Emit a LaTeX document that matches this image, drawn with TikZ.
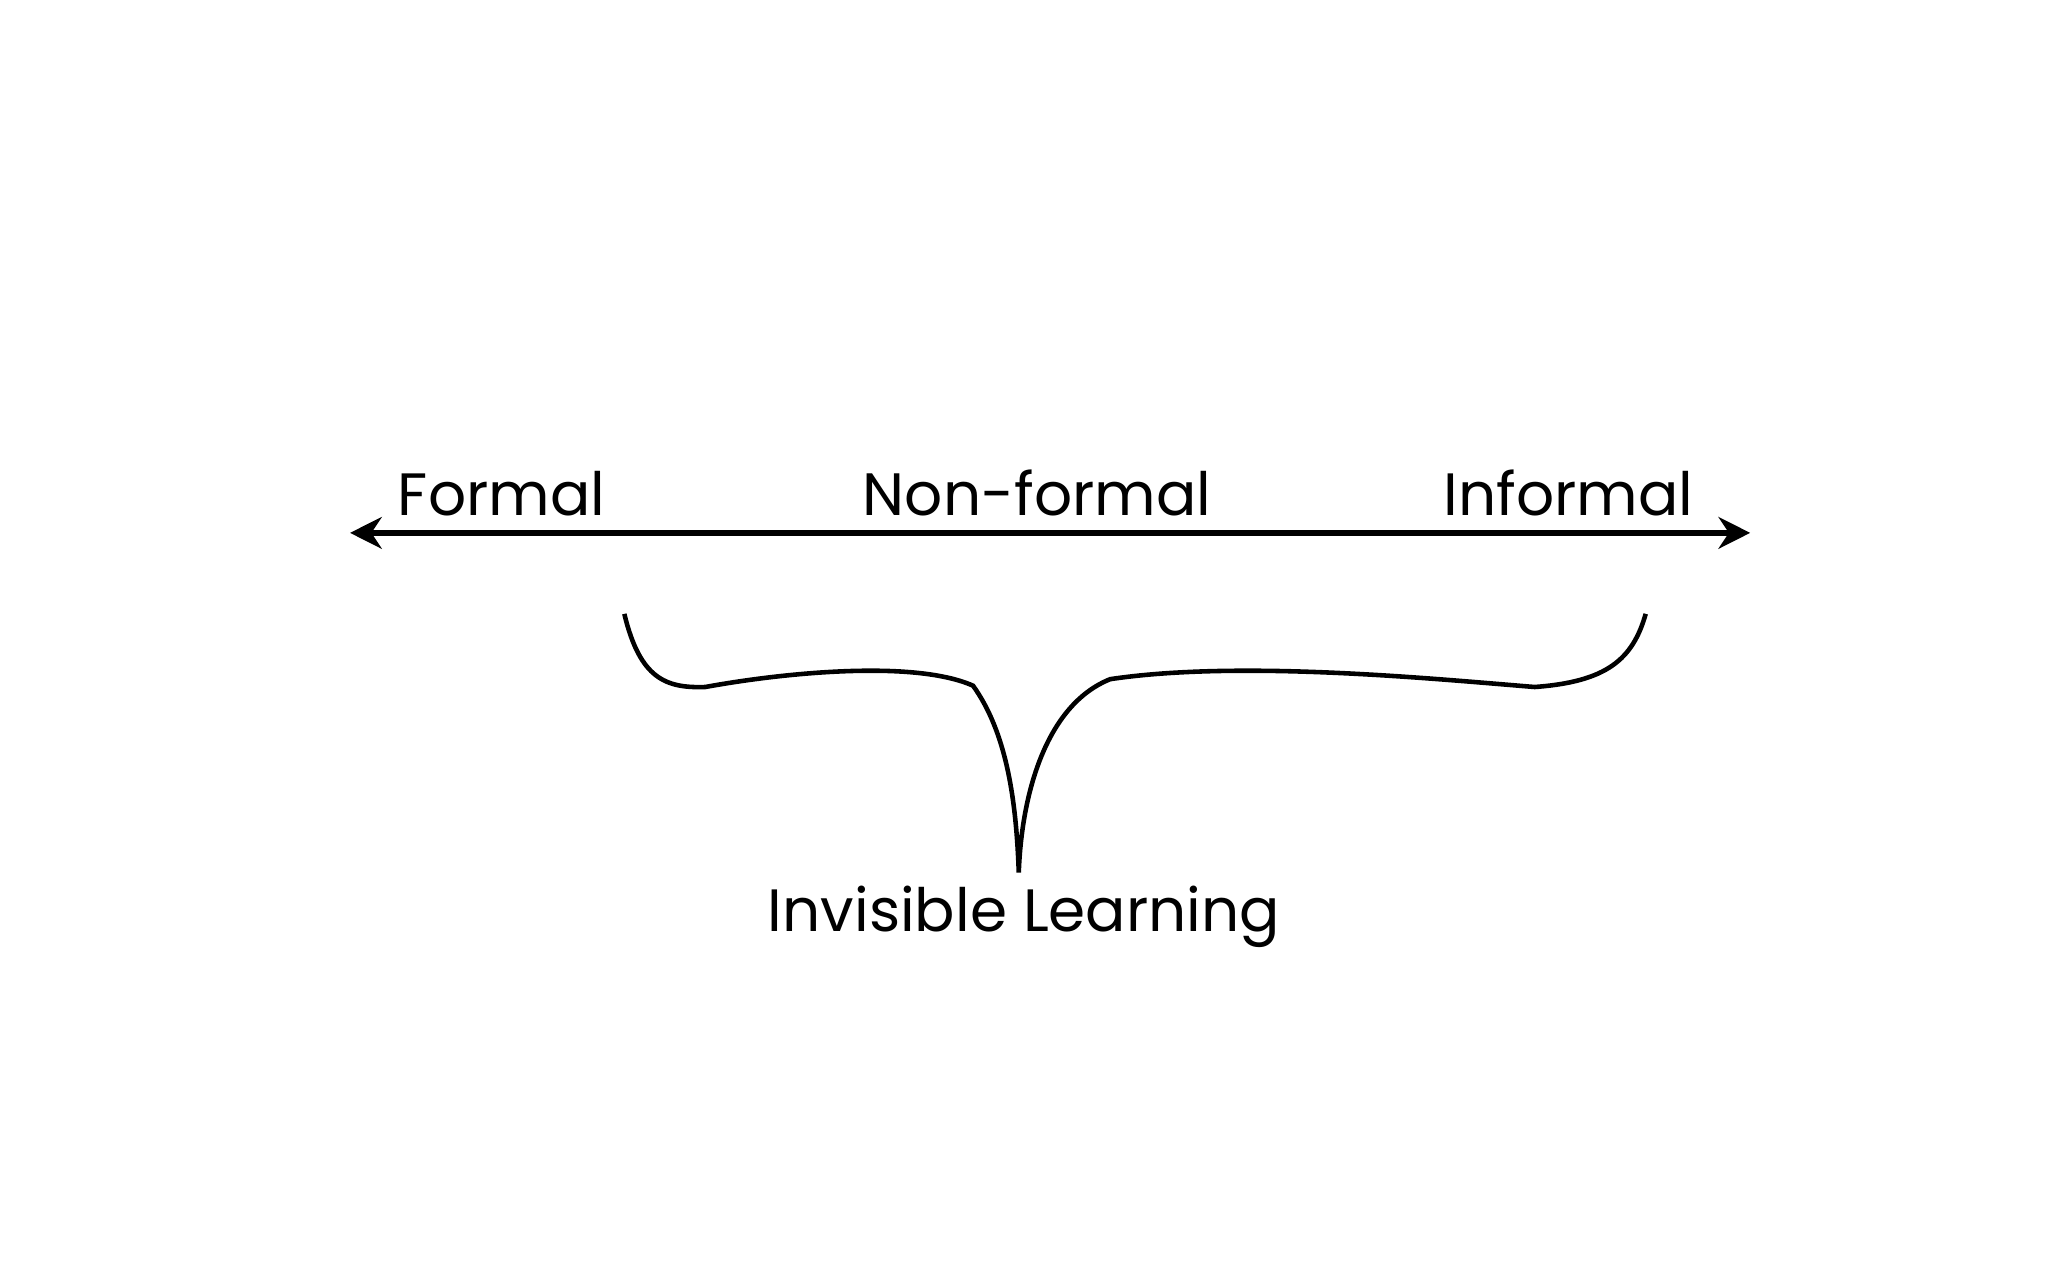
\documentclass[tikz,border=0pt]{standalone}
\usepackage{fontspec}
\setmainfont{Poppins}
\usetikzlibrary{arrows.meta}
\begin{document}
\begin{tikzpicture}[x=0.01306cm,y=-0.01306cm,
  lbl/.style={font=\fontsize{17}{20}\selectfont,inner sep=0pt,anchor=base}]
\useasboundingbox (0,0) rectangle (1568,980);
\coordinate (L) at (268,408);
\coordinate (R) at (1340,408);
\draw[line width=1.6pt,{Stealth[length=9pt,width=9pt]}-{Stealth[length=9pt,width=9pt]}] (L) -- (R);
\node[lbl] (f) at (384,395) {Formal};
\node[lbl] (n) at (794,395) {Non-formal};
\node[lbl] (i) at (1201,395) {Informal};
\draw[line width=1.3pt] (478,470) .. controls (490,520) and (510,527) .. (540,526)
 .. controls (600,515) and (700,505) .. (745,525)
 .. controls (770,560) and (778,610) .. (780,668)
 .. controls (782,610) and (800,540) .. (850,520)
 .. controls (950,505) and (1100,520) .. (1175,526)
 .. controls (1230,522) and (1250,505) .. (1260,470);
\node[lbl] (v) at (784,713) {Invisible Learning};
\end{tikzpicture}
\end{document}
